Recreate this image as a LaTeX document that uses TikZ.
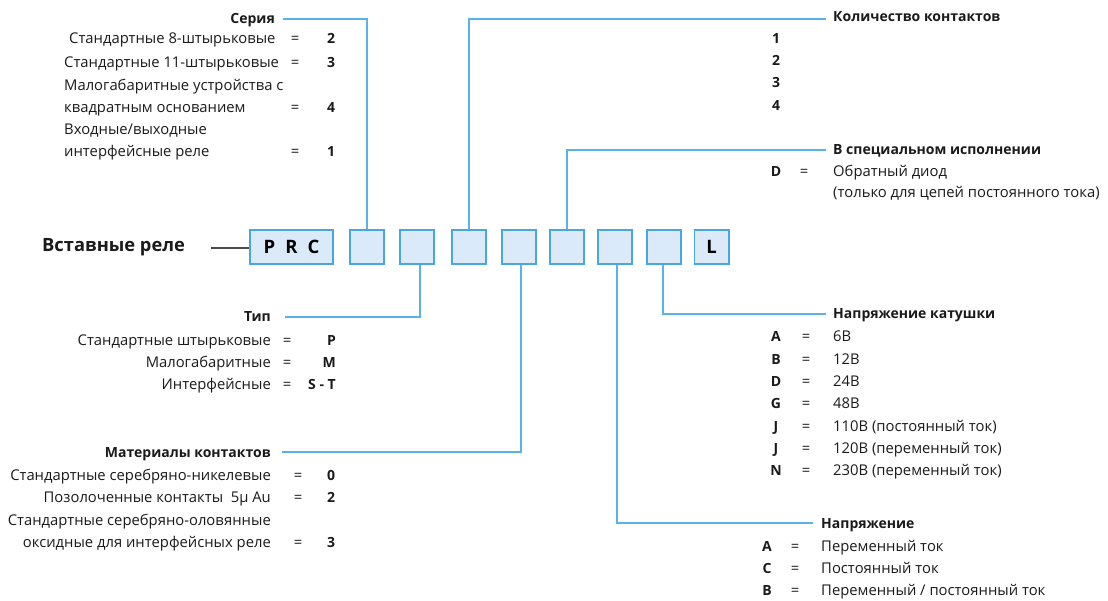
\documentclass[tikz,border=0pt]{standalone}
\usepackage{fontspec}
\setmainfont{Open Sans}
\definecolor{lnblue}{HTML}{5AB2EA}
\definecolor{bxblue}{HTML}{4AA6E0}
\definecolor{bxfill}{HTML}{DBEAF8}
\definecolor{txt}{HTML}{1A1A1A}
\newcommand{\fsz}{\fontsize{14.8}{17}\selectfont}
\newcommand{\fszb}{\fontsize{14}{17}\selectfont\bfseries}
\begin{document}
\begin{tikzpicture}[x=1pt,y=-1pt,
  conn/.style={draw=lnblue,line width=1.5pt},
  cbox/.style={draw=bxblue,fill=bxfill,line width=1.6pt,minimum width=34.4pt,minimum height=34.4pt,inner sep=0,font=\fontsize{18.5}{22}\selectfont\bfseries},
  t/.style={inner sep=0,text=txt,font=\fsz},
  tb/.style={inner sep=0,text=txt,font=\fszb},
  tl/.style={t,anchor=base west},
  tr/.style={t,anchor=base east},
  tc/.style={t,anchor=base},
  bl/.style={tb,anchor=base west},
  br/.style={tb,anchor=base east},
  bc/.style={tb,anchor=base}]
\useasboundingbox (0,0) rectangle (1108,601);

% main row
\node[inner sep=0,text=txt,font=\fontsize{18.3}{22}\selectfont\bfseries,anchor=base west] (title) at (42,252) {Вставные реле};
\node[cbox,minimum width=83.4pt] (b1) at (291.5,247) {P\hspace{10pt}R\hspace{10pt}C};
\node[cbox] (b2) at (367,247) {};
\node[cbox] (b3) at (417,247) {};
\node[cbox] (b4) at (469,247) {};
\node[cbox] (b5) at (519,247) {};
\node[cbox] (b6) at (567,247) {};
\node[cbox] (b7) at (615,247) {};
\node[cbox] (b8) at (664,247) {};
\node[cbox] (b9) at (711.5,247) {L};
\coordinate (g0) at (211,248);
\draw[draw=black!70,line width=1.5pt] (g0) -- (b1.west |- g0);

% Серия
\node[br] (seria) at (275,24) {Серия};
\node[tl] at (69,44) {Стандартные 8-штырьковые};
\node[tl] at (64,68) {Стандартные 11-штырьковые};
\node[tl] at (64,91) {Малогабаритные устройства с};
\node[tl] at (64,113) {квадратным основанием};
\node[tl] at (64,135) {Входные/выходные};
\node[tl] at (64,157) {интерфейсные реле};
\foreach \y/\v in {44/2,68/3,113/4,157/1}{
  \node[tc] at (295,\y) {=};
  \node[bc] at (331,\y) {\v};
}
\coordinate (cs) at (283,19);
\draw[conn] (cs) -| (b2.north);

% Количество контактов
\node[bl] (kol) at (833,22) {Количество контактов};
\foreach \y/\v in {44/1,66/2,88/3,111/4}{
  \node[bc] at (776,\y) {\v};
}
\coordinate (ck) at (826,19);
\draw[conn] (ck) -| (b4.north);

% В специальном исполнении
\node[bl] (spec) at (833,155) {В специальном исполнении};
\node[bc] at (776,177) {D};
\node[tc] at (804,177) {=};
\node[tl] at (833,177) {Обратный диод};
\node[tl] at (833,198) {(только для цепей постоянного тока)};
\coordinate (csp) at (826,150);
\draw[conn] (csp) -| (b6.north);

% Тип
\node[br] (tip) at (271,322) {Тип};
\foreach \y/\a/\v in {345/Стандартные штырьковые/P,367/Малогабаритные/M,389/Интерфейсные/S - T}{
  \node[tr] at (271,\y) {\a};
  \node[tc] at (287,\y) {=};
  \node[br] at (336,\y) {\v};
}
\coordinate (ct) at (285,317);
\draw[conn] (ct) -| ([xshift=3pt]b3.south);

% Материалы контактов
\node[br] (mat) at (271,457) {Материалы контактов};
\node[tr] at (271,480) {Стандартные серебряно-никелевые};
\node[tr] at (271,502) {Позолоченные контакты\ \ 5µ Au};
\node[tr] at (271,525) {Стандартные серебряно-оловянные};
\node[tr] at (271,547) {оксидные для интерфейсных реле};
\foreach \y/\v in {480/0,502/2,547/3}{
  \node[tc] at (298,\y) {=};
  \node[bc] at (331,\y) {\v};
}
\coordinate (cm) at (282,452);
\draw[conn] (cm) -| ([xshift=2pt]b5.south);

% Напряжение катушки
\node[bl] (kat) at (833,319) {Напряжение катушки};
\foreach \y/\l/\v in {342/A/6В,364/B/12В,386/D/24В,408/G/48В,431/J/110В (постоянный ток),453/J/120В (переменный ток),475/N/230В (переменный ток)}{
  \node[bc] at (776,\y) {\l};
  \node[tc] at (806,\y) {=};
  \node[tl] at (833,\y) {\v};
}
\coordinate (ckt) at (826,314);
\draw[conn] (ckt) -| ([xshift=-1pt]b8.south);

% Напряжение
\node[bl] (nap) at (821,528) {Напряжение};
\foreach \y/\l/\v in {551/A/{Переменный ток},573/C/{Постоянный ток},595/B/{Переменный / постоянный ток}}{
  \node[bc] at (767,\y) {\l};
  \node[tc] at (795,\y) {=};
  \node[tl] at (821,\y) {\v};
}
\coordinate (cn) at (813,523);
\draw[conn] (cn) -| ([xshift=2pt]b7.south);
\end{tikzpicture}
\end{document}
